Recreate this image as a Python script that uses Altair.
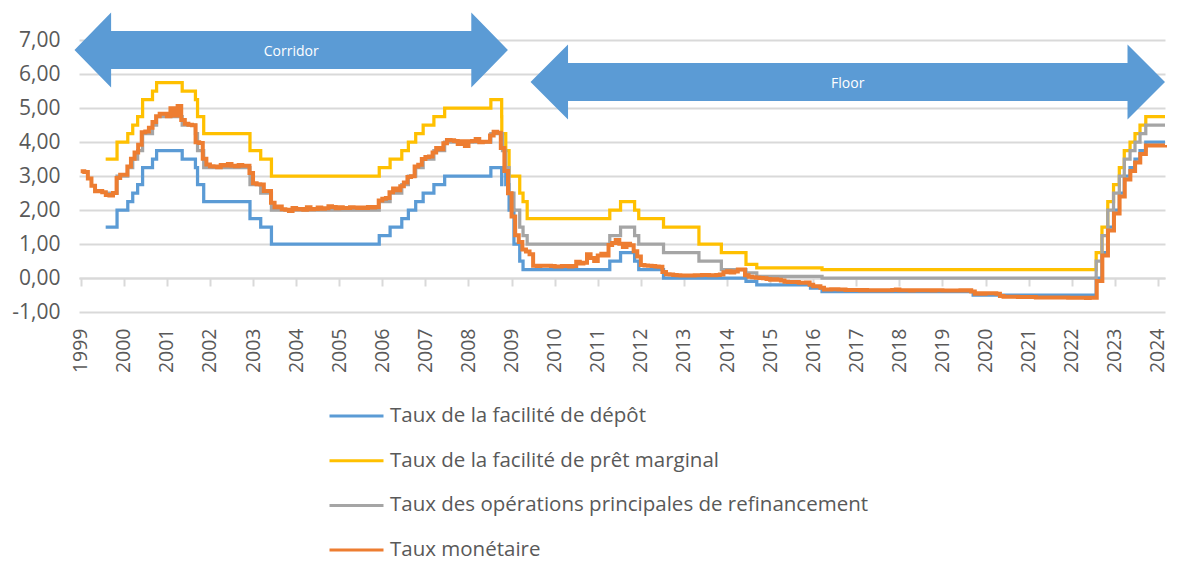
import altair as alt
import pandas as pd

# ---------------- data ----------------
series_names = [
    "Taux de la facilité de dépôt",
    "Taux de la facilité de prêt marginal",
    "Taux des opérations principales de refinancement",
    "Taux monétaire",
]
series_colors = ["#5b9bd5", "#ffc000", "#a5a5a5", "#ed7d31"]
series_widths = [3.25, 3.25, 3.25, 4.0]

years = list(range(1999, 2025))
y_ticks = [-1, 0, 1, 2, 3, 4, 5, 6, 7]
x_min, x_max = 1998.961, 2024.164

# policy-rate change dates (decimal years) and levels
policy_dates = [1999.58, 1999.844, 2000.093, 2000.208, 2000.322, 2000.437, 2000.667, 2000.762,
                2001.356, 2001.663, 2001.712, 2001.855, 2002.929, 2003.178, 2003.427, 2005.929,
                2006.181, 2006.452, 2006.605, 2006.775, 2006.948, 2007.197, 2007.447, 2008.519,
                2008.770, 2008.773, 2008.789, 2008.865, 2008.942, 2009.055, 2009.189, 2009.266,
                2009.362, 2011.279, 2011.529, 2011.855, 2011.951, 2012.526, 2013.348, 2013.868,
                2014.440, 2014.690, 2015.937, 2016.205, 2019.712, 2022.567, 2022.701, 2022.836,
                2022.970, 2023.104, 2023.219, 2023.353, 2023.468, 2023.584, 2023.718, 2024.164]
deposit_rate = [1.50, 2.00, 2.25, 2.50, 2.75, 3.25, 3.50, 3.75, 3.50, 3.25, 2.75, 2.25, 1.75, 1.50,
                1.00, 1.25, 1.50, 1.75, 2.00, 2.25, 2.50, 2.75, 3.00, 3.25, 2.75, 3.25, 3.25, 2.75,
                2.00, 1.00, 0.50, 0.25, 0.25, 0.50, 0.75, 0.50, 0.25, 0.00, 0.00, 0.00, -0.10, -0.20,
                -0.30, -0.40, -0.50, 0.00, 0.75, 1.50, 2.00, 2.50, 3.00, 3.25, 3.50, 3.75, 4.00, 4.00]
marginal_rate = [3.50, 4.00, 4.25, 4.50, 4.75, 5.25, 5.50, 5.75, 5.50, 5.25, 4.75, 4.25, 3.75, 3.50,
                 3.00, 3.25, 3.50, 3.75, 4.00, 4.25, 4.50, 4.75, 5.00, 5.25, 4.75, 4.25, 4.25, 3.75,
                 3.00, 3.00, 2.50, 2.25, 1.75, 2.00, 2.25, 2.00, 1.75, 1.50, 1.00, 0.75, 0.40, 0.30,
                 0.30, 0.25, 0.25, 0.75, 1.50, 2.25, 2.75, 3.25, 3.75, 4.00, 4.25, 4.50, 4.75, 4.75]
mro_rate = [2.50, 3.00, 3.25, 3.50, 3.75, 4.25, 4.50, 4.75, 4.50, 4.25, 3.75, 3.25, 2.75, 2.50,
            2.00, 2.25, 2.50, 2.75, 3.00, 3.25, 3.50, 3.75, 4.00, 4.25, 4.25, 4.25, 3.75, 3.25,
            2.50, 2.00, 1.50, 1.25, 1.00, 1.25, 1.50, 1.25, 1.00, 0.75, 0.50, 0.25, 0.15, 0.05,
            0.05, 0.00, 0.00, 0.50, 1.25, 2.00, 2.50, 3.00, 3.50, 3.75, 4.00, 4.25, 4.50, 4.50]

# money-market rate, monthly (Jan..Dec)
money_rate = {
    1999: [3.14, 3.12, 2.93, 2.71, 2.55, 2.56, 2.52, 2.44, 2.43, 2.50, 2.94, 3.04],
    2000: [3.04, 3.28, 3.51, 3.69, 3.92, 4.29, 4.31, 4.42, 4.59, 4.76, 4.83, 4.83],
    2001: [4.76, 4.99, 4.78, 5.06, 4.65, 4.54, 4.51, 4.49, 3.99, 3.97, 3.51, 3.34],
    2002: [3.29, 3.28, 3.26, 3.32, 3.31, 3.35, 3.30, 3.29, 3.32, 3.30, 3.30, 3.09],
    2003: [2.79, 2.76, 2.75, 2.56, 2.56, 2.21, 2.08, 2.10, 2.02, 2.01, 1.97, 2.06],
    2004: [2.02, 2.03, 2.01, 2.08, 2.02, 2.03, 2.07, 2.04, 2.05, 2.11, 2.09, 2.05],
    2005: [2.08, 2.06, 2.06, 2.08, 2.07, 2.06, 2.07, 2.06, 2.09, 2.07, 2.09, 2.28],
    2006: [2.33, 2.35, 2.52, 2.63, 2.58, 2.70, 2.81, 2.97, 2.99, 3.28, 3.33, 3.50],
    2007: [3.56, 3.57, 3.69, 3.82, 3.79, 3.96, 4.06, 4.05, 4.03, 3.94, 4.02, 3.88],
    2008: [4.02, 4.03, 4.09, 3.99, 4.01, 4.01, 4.19, 4.30, 4.27, 3.82, 3.15, 2.49],
    2009: [1.81, 1.26, 1.06, 0.84, 0.78, 0.70, 0.36, 0.35, 0.36, 0.36, 0.36, 0.35],
    2010: [0.34, 0.34, 0.35, 0.35, 0.34, 0.35, 0.48, 0.43, 0.45, 0.70, 0.59, 0.50],
    2011: [0.66, 0.71, 0.66, 0.97, 1.03, 1.12, 1.01, 0.91, 1.01, 0.96, 0.79, 0.63],
    2012: [0.38, 0.37, 0.36, 0.35, 0.34, 0.33, 0.18, 0.11, 0.10, 0.09, 0.08, 0.07],
    2013: [0.07, 0.07, 0.07, 0.08, 0.08, 0.09, 0.09, 0.08, 0.08, 0.09, 0.10, 0.17],
    2014: [0.20, 0.16, 0.19, 0.25, 0.25, 0.08, 0.04, 0.02, 0.01, 0.00, -0.01, -0.03],
    2015: [-0.05, -0.04, -0.05, -0.07, -0.11, -0.12, -0.12, -0.12, -0.14, -0.14, -0.13, -0.20],
    2016: [-0.24, -0.24, -0.29, -0.34, -0.34, -0.33, -0.33, -0.34, -0.34, -0.35, -0.35, -0.35],
    2017: [-0.35, -0.36, -0.35, -0.36, -0.36, -0.36, -0.36, -0.36, -0.36, -0.36, -0.35, -0.34],
    2018: [-0.36, -0.36, -0.36, -0.37, -0.36, -0.36, -0.36, -0.36, -0.36, -0.37, -0.36, -0.36],
    2019: [-0.37, -0.37, -0.37, -0.37, -0.37, -0.36, -0.37, -0.36, -0.40, -0.46, -0.45, -0.46],
    2020: [-0.45, -0.45, -0.45, -0.46, -0.53, -0.55, -0.55, -0.55, -0.55, -0.56, -0.56, -0.56],
    2021: [-0.56, -0.56, -0.57, -0.57, -0.57, -0.57, -0.57, -0.57, -0.57, -0.57, -0.57, -0.58],
    2022: [-0.58, -0.58, -0.58, -0.58, -0.59, -0.58, -0.58],
}
money_late_dates = [2022.58, 2022.71, 2022.84, 2022.98, 2023.11, 2023.23, 2023.36, 2023.47,
                    2023.59, 2023.72, 2024.164]
money_late_values = [-0.09, 0.66, 1.40, 1.90, 2.40, 2.90, 3.15, 3.40, 3.65, 3.90, 3.91]

# annotation arrows (data units)
arrow_labels = ["Corridor", "Floor"]
arrow_start = [1998.856, 2009.44]
arrow_end = [2008.915, 2024.164]
arrow_center = [6.706, 5.765]
arrow_head_len = [0.85, 0.87]
arrow_shaft_half = 0.56
arrow_head_half = 1.10

# ---------------- tables ----------------
rows = []
for name, vals in zip(series_names[:3], [deposit_rate, marginal_rate, mro_rate]):
    for t, v in zip(policy_dates, vals):
        rows.append({"t": t, "v": v, "series": name})
for yr, vals in money_rate.items():
    for m, v in enumerate(vals):
        rows.append({"t": yr + m / 12, "v": v, "series": series_names[3]})
for t, v in zip(money_late_dates, money_late_values):
    rows.append({"t": t, "v": v, "series": series_names[3]})
df = pd.DataFrame(rows)

arrow_rows = []
for lab, a, b, c, h in zip(arrow_labels, arrow_start, arrow_end, arrow_center, arrow_head_len):
    pts = [(a, c, c), (a + h, c + arrow_head_half, c - arrow_head_half),
           (a + h, c + arrow_shaft_half, c - arrow_shaft_half),
           (b - h, c + arrow_shaft_half, c - arrow_shaft_half),
           (b - h, c + arrow_head_half, c - arrow_head_half), (b, c, c)]
    for k, (x, yt, yb) in enumerate(pts):
        arrow_rows.append({"ax": x, "yt": yt, "yb": yb, "k": k, "arrow": lab})
arrow_df = pd.DataFrame(arrow_rows)
label_df = pd.DataFrame({
    "ax": [(a + b) / 2 for a, b in zip(arrow_start, arrow_end)],
    "ay": [c - 0.05 for c in arrow_center],
    "label": arrow_labels,
})

# ---------------- encodings ----------------
FONT = "Open Sans"
TXT = "#595959"
x_scale = alt.Scale(domain=[x_min, x_max], nice=False, zero=False)
y_scale = alt.Scale(domain=[-1, 7], nice=False, zero=False)

y_axis = alt.Axis(values=y_ticks, title=None, ticks=False, domain=False, grid=True,
                  gridColor="#d9d9d9", gridWidth=2,
                  labelExpr="(datum.value < 0 ? '-' : '') + replace(format(abs(datum.value), '.2f'), '.', ',')",
                  labelFontSize=21, labelFont=FONT, labelColor=TXT, labelPadding=19)
x_axis_labels = alt.Axis(values=years, format="d", title=None, orient="bottom", ticks=False,
                         domain=False, grid=False, labelAngle=270, labelFontSize=19.5,
                         labelFont=FONT, labelColor=TXT, labelPadding=16, labelFlush=False,
                         labelOverlap=False)
x_axis_ticks = alt.Axis(values=years, title=None, orient="bottom", offset=-34, labels=False,
                        ticks=True, tickSize=8, tickWidth=2, tickColor="#d9d9d9",
                        domain=True, domainColor="#d9d9d9", domainWidth=2, grid=False)

legend = alt.Legend(title=None, orient="none", legendX=249, legendY=362, direction="vertical",
                    symbolType="stroke", symbolSize=2916, symbolStrokeWidth=3,
                    labelFontSize=20.5, labelFont=FONT, labelColor=TXT, labelOffset=5,
                    rowPadding=16.7, clipHeight=28, padding=0, labelLimit=800)
color = alt.Color("series:N", scale=alt.Scale(domain=series_names, range=series_colors),
                  legend=legend, sort=series_names)

line_layers = []
for name, w in zip(series_names, series_widths):
    line_layers.append(
        alt.Chart(df[df.series == name]).mark_line(interpolate="step-after", strokeWidth=w)
        .encode(x=alt.X("t:Q", scale=x_scale, axis=x_axis_labels),
                y=alt.Y("v:Q", scale=y_scale, axis=y_axis),
                color=color)
    )

arrows = alt.Chart(arrow_df).mark_area(color="#5b9bd5", opacity=1).encode(
    x=alt.X("ax:Q", scale=x_scale, axis=x_axis_labels),
    y=alt.Y("yt:Q", scale=y_scale, axis=y_axis),
    y2="yb:Q",
    detail="arrow:N",
)

group_a = alt.layer(arrows, *line_layers)

arrow_text = alt.Chart(label_df).mark_text(color="white", fontSize=14, font=FONT,
                                           align="center", baseline="middle").encode(
    x=alt.X("ax:Q", scale=x_scale, axis=x_axis_ticks),
    y=alt.Y("ay:Q", scale=y_scale, axis=y_axis),
    text="label:N",
)

chart = alt.layer(group_a, arrow_text).resolve_axis(x="independent").properties(
    width=1086, height=272,
    autosize=alt.AutoSizeParams(type="none"),
    padding={"left": 71, "top": 32, "right": 5, "bottom": 256},
    background="white",
).configure_view(stroke=None)

chart.save("out.html", embed_options={"renderer": "svg", "actions": False})
